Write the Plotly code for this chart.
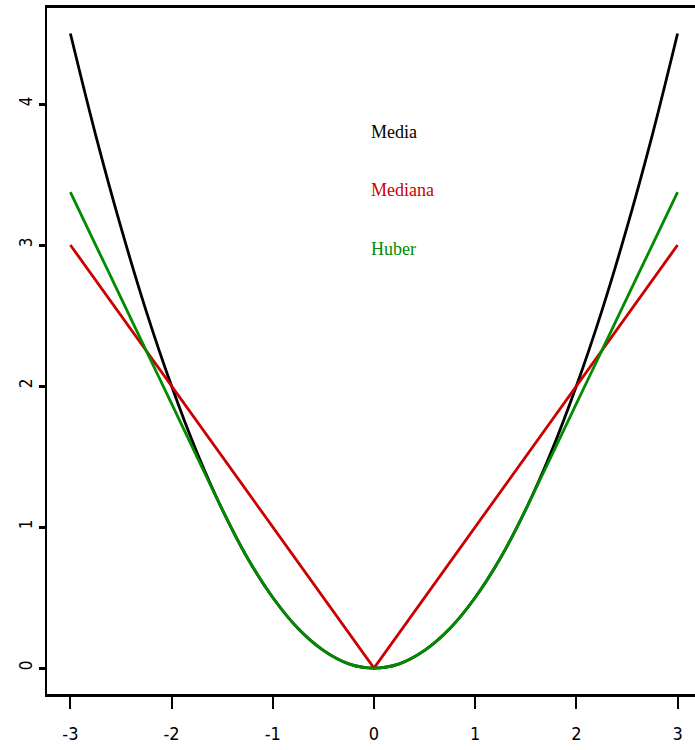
import plotly.graph_objects as go

x_vals = [-3.0, -2.75, -2.5, -2.25, -2.0, -1.75, -1.5, -1.25, -1.0, -0.75, -0.5, -0.25, 0.0,
          0.25, 0.5, 0.75, 1.0, 1.25, 1.5, 1.75, 2.0, 2.25, 2.5, 2.75, 3.0]
media_vals = [4.5, 3.78, 3.125, 2.53, 2.0, 1.53, 1.125, 0.78, 0.5, 0.28, 0.125, 0.03, 0.0,
              0.03, 0.125, 0.28, 0.5, 0.78, 1.125, 1.53, 2.0, 2.53, 3.125, 3.78, 4.5]
huber_vals = [3.375, 3.0, 2.625, 2.25, 1.875, 1.5, 1.125, 0.78, 0.5, 0.28, 0.125, 0.03, 0.0,
              0.03, 0.125, 0.28, 0.5, 0.78, 1.125, 1.5, 1.875, 2.25, 2.625, 3.0, 3.375]
mediana_x = [-3.0, 0.0, 3.0]
mediana_vals = [3.0, 0.0, 3.0]

labels = ["Media", "Mediana", "Huber"]
label_y = [3.80, 3.39, 2.97]
label_x = -0.05

x_ticks = [-3, -2, -1, 0, 1, 2, 3]
y_ticks = [0, 1, 2, 3, 4]

black = "#000000"
red = "#CD0000"
green = "#008B00"

tick_font = "DejaVu Sans Condensed, Liberation Sans Narrow, Liberation Sans, sans-serif"

fig = go.Figure()
fig.add_trace(go.Scatter(x=x_vals, y=media_vals, mode="lines",
                         line=dict(color=black, width=2.8, shape="spline")))
fig.add_trace(go.Scatter(x=mediana_x, y=mediana_vals, mode="lines",
                         line=dict(color=red, width=2.8)))
fig.add_trace(go.Scatter(x=x_vals, y=huber_vals, mode="lines",
                         line=dict(color=green, width=2.8, shape="spline")))

for txt, yy, col in zip(labels, label_y, [black, red, green]):
    fig.add_annotation(x=label_x, y=yy, text=txt, showarrow=False, xanchor="left",
                       yanchor="middle",
                       font=dict(family="Liberation Serif, Times New Roman, serif", size=18, color=col))

fig.update_layout(
    width=695, height=750,
    margin=dict(l=47, r=0, t=8, b=56),
    plot_bgcolor="white", paper_bgcolor="white",
    showlegend=False,
    xaxis=dict(range=[-3.231, 3.172], tickvals=x_ticks, ticktext=[str(v) for v in x_ticks],
               showgrid=False, zeroline=False, showline=True, mirror=True,
               linecolor="black", linewidth=3, ticks="outside", ticklen=12, tickwidth=2,
               tickcolor="black", ticklabelstandoff=9,
               tickfont=dict(family=tick_font, size=18, color="black")),
    yaxis=dict(range=[-0.184, 4.681], tickvals=y_ticks, ticktext=[str(v) for v in y_ticks],
               showgrid=False, zeroline=False, showline=True, mirror=False,
               linecolor="black", linewidth=2, ticks="outside", ticklen=6, tickwidth=3,
               tickcolor="black", tickangle=-90,
               tickfont=dict(family=tick_font, size=17, color="black")),
)

fig.write_html("out.html", config={"displayModeBar": False},
               post_script="document.body.style.margin='0';document.body.style.overflow='hidden';")
